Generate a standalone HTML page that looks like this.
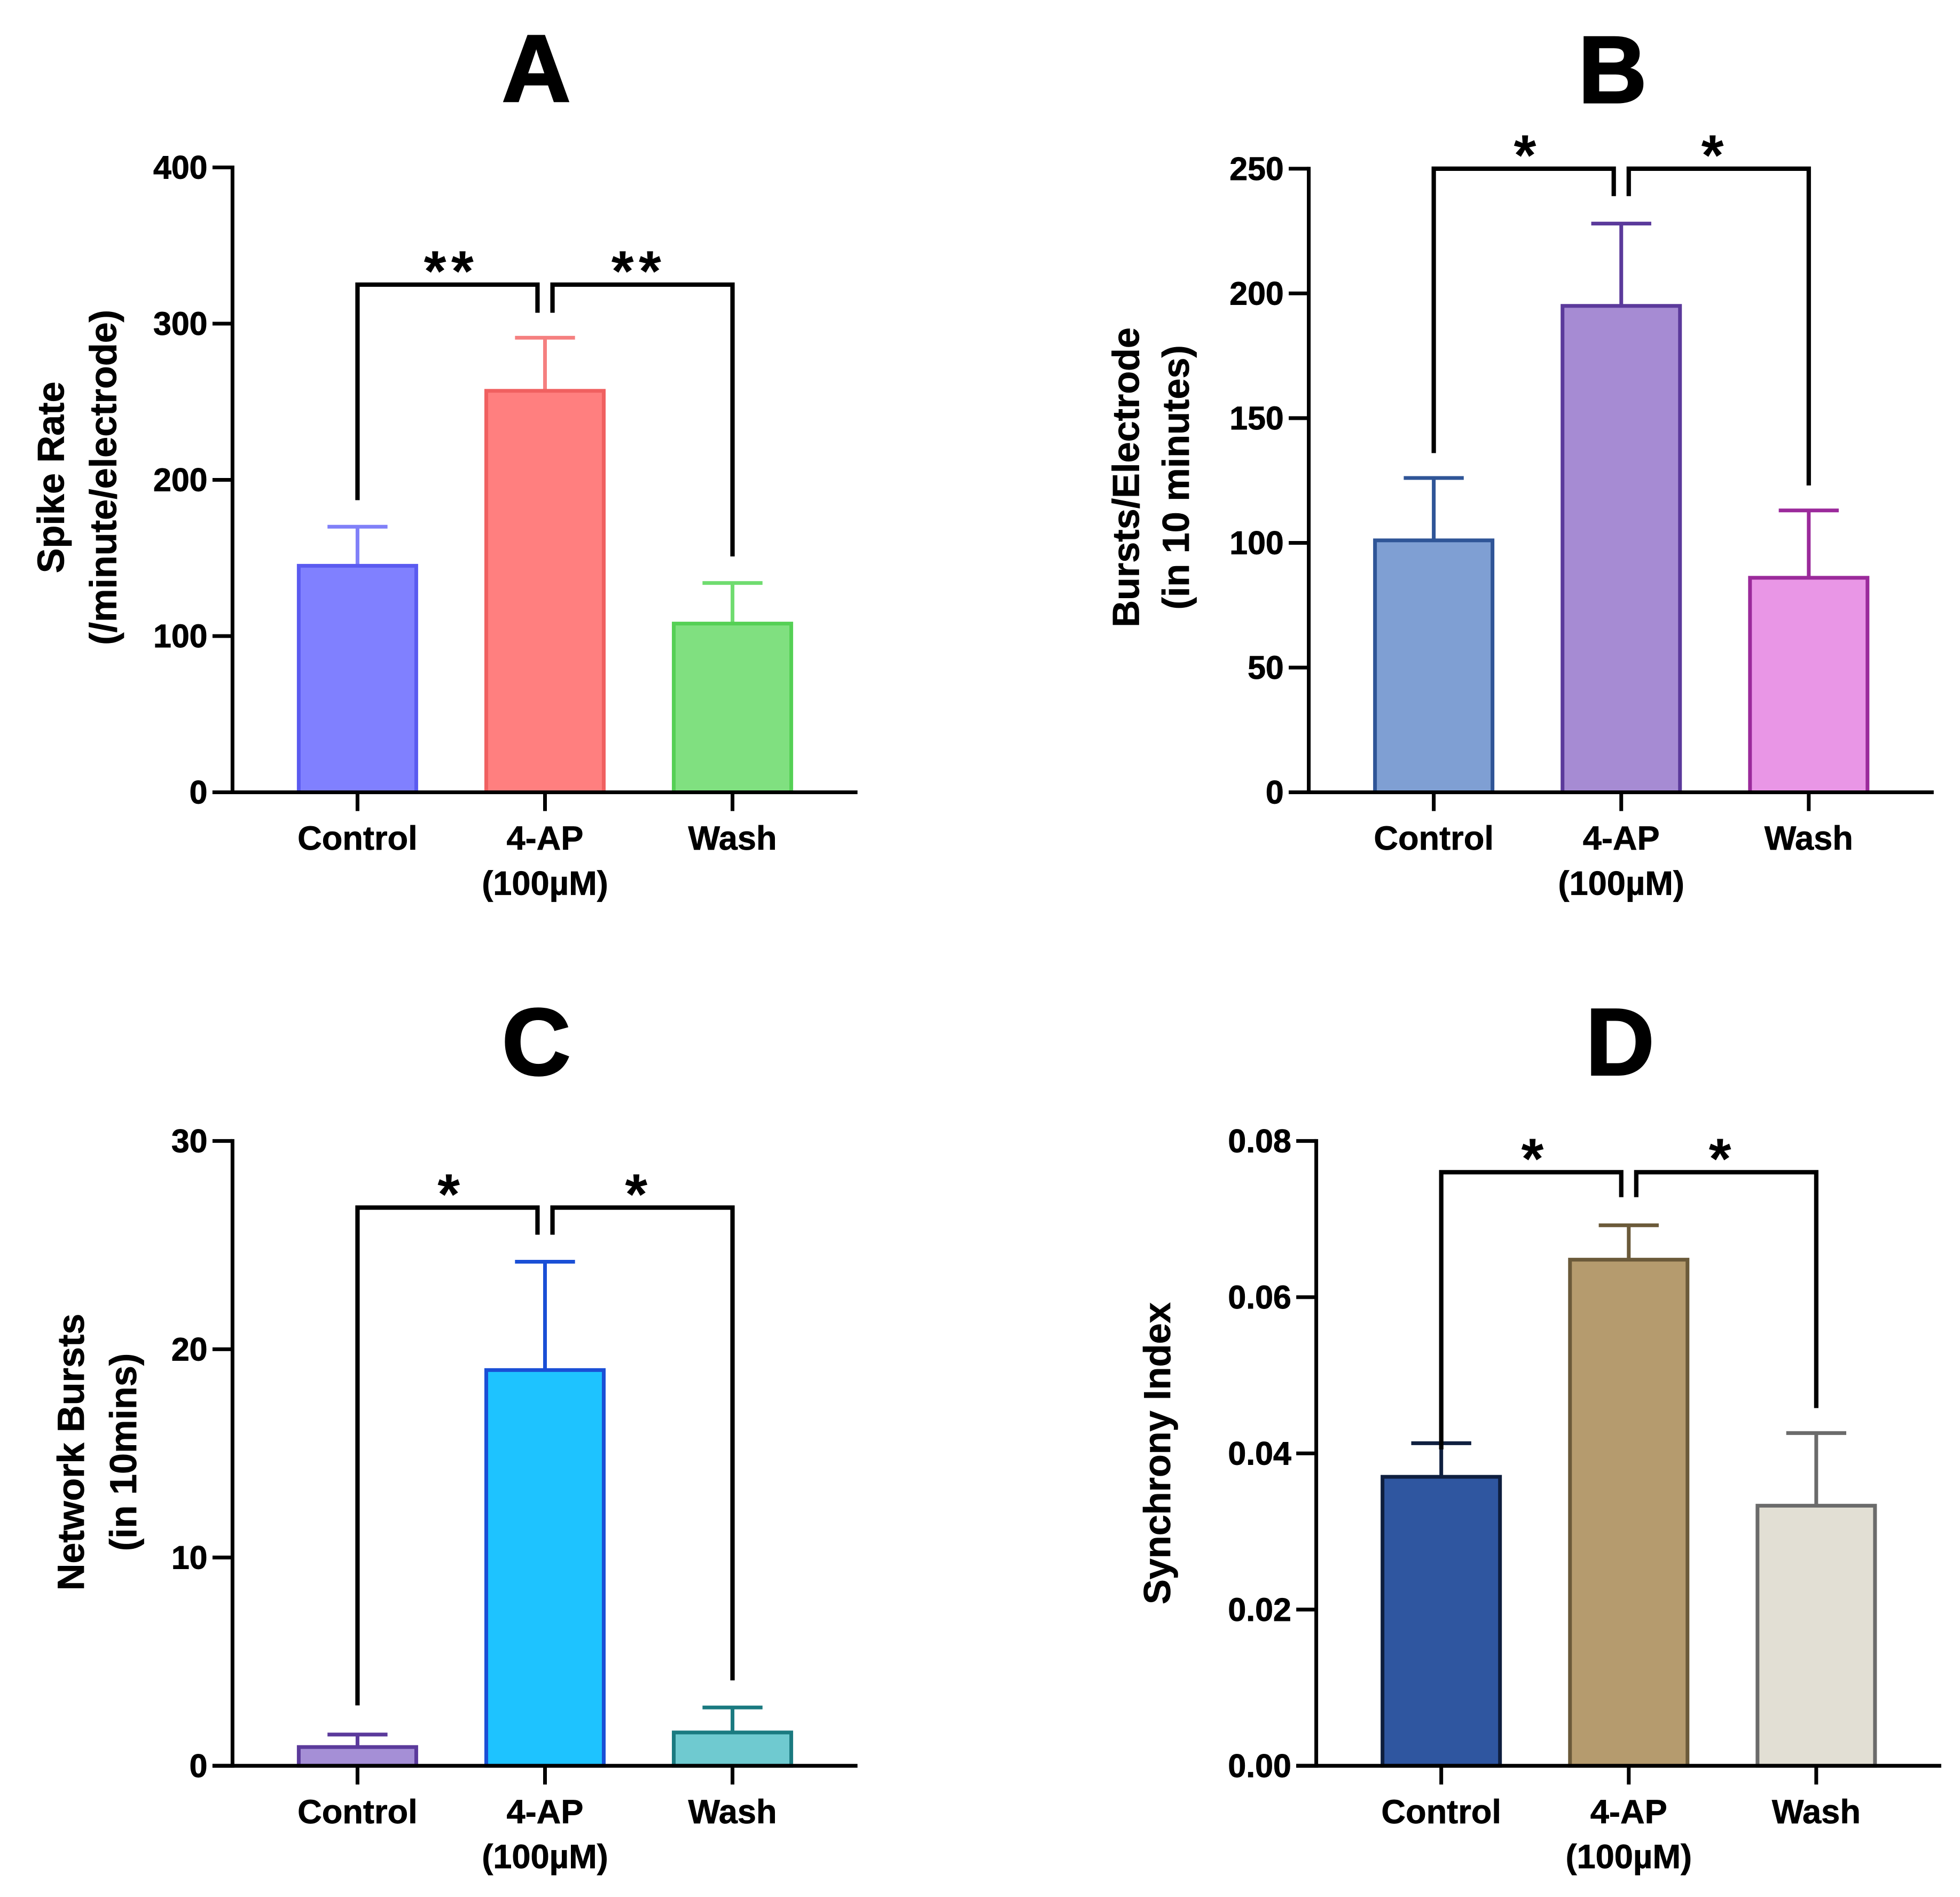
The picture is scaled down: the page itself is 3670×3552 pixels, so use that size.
<!DOCTYPE html>
<html><head><meta charset="utf-8"><style>
html,body{margin:0;padding:0;background:#fff}
svg{display:block}
text{font-family:"Liberation Sans",Arial,sans-serif;font-weight:bold;fill:#000}
</style></head><body>
<svg id="fig" xmlns="http://www.w3.org/2000/svg" width="3670" height="3552" viewBox="0 0 1568 1518" preserveAspectRatio="none"></svg>
<script>
const categories = ["Control", "4-AP", "Wash"];
const aValues = [145, 257, 108];
const aErrors = [170, 291, 134];
const aTicks = ["0", "100", "200", "300", "400"];
const bValues = [101, 195, 86];
const bErrors = [126, 228, 113];
const bTicks = ["0", "50", "100", "150", "200", "250"];
const cValues = [0.9, 19, 1.6];
const cErrors = [1.5, 24.2, 2.8];
const cTicks = ["0", "10", "20", "30"];
const dValues = [0.037, 0.0648, 0.0333];
const dErrors = [0.0413, 0.0692, 0.0426];
const dTicks = ["0.00", "0.02", "0.04", "0.06", "0.08"];
// brackets: [bar y, left leg bottom, middle legs bottom, right leg bottom]
const aBracket = [325, 187, 307, 151];
const bBracket = [250, 136, 239, 123];
const cBracket = [26.8, 2.9, 25.5, 4.1];
const dBracket = [0.076, 0.0405, 0.0728, 0.0458];

const NS = "http://www.w3.org/2000/svg";
const svg = document.getElementById("fig");
function el(tag, attrs, parent) {
  const e = document.createElementNS(NS, tag);
  for (const k in attrs) e.setAttribute(k, attrs[k]);
  (parent || svg).appendChild(e);
  return e;
}

const panels = [
  {id:"a", letter:"A", ox:186, y0:634, y1:134, max:400, ticks:aTicks, values:aValues, errors:aErrors, br:aBracket, stars:"**",
   fills:["#8080ff","#ff7f7f","#80e080"], strokes:["#5a5af0","#f06060","#55d055"], errc:["#8080f8","#f58080","#70dc70"],
   ytitle:["Spike Rate","(/minute/electrode)"], tx:[40,82], tcy:382},
  {id:"b", letter:"B", ox:1047, y0:634, y1:135, max:250, ticks:bTicks, values:bValues, errors:bErrors, br:bBracket, stars:"*",
   fills:["#7f9fd3","#a68bd3","#e996e6"], strokes:["#2f5597","#5b3a9b","#9b2a9b"], errc:["#2f5597","#5b3a9b","#9b2a9b"],
   ytitle:["Bursts/Electrode","(in 10 minutes)"], tx:[900,940], tcy:382},
  {id:"c", letter:"C", ox:186, y0:1413, y1:913, max:30, ticks:cTicks, values:cValues, errors:cErrors, br:cBracket, stars:"*",
   fills:["#a58fd6","#1ec3ff","#6fcad0"], strokes:["#5b3a9b","#1a4fd6","#1a7a80"], errc:["#5b3a9b","#1a4fd6","#1a7a80"],
   ytitle:["Network Bursts","(in 10mins)"], tx:[56,98], tcy:1162},
  {id:"d", letter:"D", ox:1053, y0:1413, y1:913, max:0.08, ticks:dTicks, values:dValues, errors:dErrors, br:dBracket, stars:"*",
   fills:["#2f56a0","#b59b6e","#e2dfd4"], strokes:["#0f1f3f","#6b5a3a","#6b6b6b"], errc:["#0f1f3f","#6b5a3a","#6b6b6b"],
   ytitle:["Synchrony Index"], tx:[925], tcy:1163}
];

panels.forEach(p => {
  const g = el("g", {});
  
  
  const y = v => p.y0 - (v / p.max) * (p.y0 - p.y1);
  const xc = i => p.ox + 100 + i * 150;
  const bw = 97;
  const t = el("text", {x:p.ox + 243, y:p.y1 - 53, "text-anchor":"middle", "font-size":76, stroke:"#000", "stroke-width":1.5}, g);
  t.textContent = p.letter;
  
  
  p.ticks.forEach((lab, i) => {
    const v = p.max * i / (p.ticks.length - 1);
    const ty = y(v);
    const tk = el("line", {x1:p.ox - 16, x2:p.ox, y1:ty, y2:ty, stroke:"#000", "stroke-width":3}, g);
    
    
    const tl = el("text", {x:p.ox - 20, y:ty + 9, "text-anchor":"end", "font-size":26, stroke:"#000", "stroke-width":0.4}, g);
    tl.textContent = lab;
    
    
  });
  p.values.forEach((v, i) => {
    const cx = xc(i);
    const eb = el("line", {x1:cx, x2:cx, y1:y(v), y2:y(p.errors[i]), stroke:p.errc[i], "stroke-width":3}, g);
    
    
    const ec = el("line", {x1:cx - 24, x2:cx + 24, y1:y(p.errors[i]), y2:y(p.errors[i]), stroke:p.errc[i], "stroke-width":3}, g);
    
    
    const r = el("rect", {x:cx - bw/2 + 1.5, y:y(v), width:bw - 3, height:p.y0 - y(v), fill:p.fills[i], stroke:p.strokes[i], "stroke-width":3}, g);
    
    
    const xt = el("line", {x1:cx, x2:cx, y1:p.y0, y2:p.y0 + 15, stroke:"#000", "stroke-width":3}, g);
    
    
    const cl = el("text", {x:cx, y:p.y0 + 46, "text-anchor":"middle", "font-size":27, stroke:"#000", "stroke-width":0.3}, g);
    cl.textContent = categories[i];
    
    
    if (i === 1) {
      const c2 = el("text", {x:cx, y:p.y0 + 82, "text-anchor":"middle", "font-size":27, stroke:"#000", "stroke-width":0.3}, g);
      c2.textContent = "(100µM)";
      
      
    }
  });
  const ya = el("line", {x1:p.ox, x2:p.ox, y1:p.y1 - 1.5, y2:p.y0 + 1.5, stroke:"#000", "stroke-width":3}, g);
  
  
  const xa = el("line", {x1:p.ox - 16, x2:p.ox + 500, y1:p.y0, y2:p.y0, stroke:"#000", "stroke-width":3}, g);
  
  
  const by = y(p.br[0]), x0 = xc(0), x1 = xc(1), x2 = xc(2);
  const l1 = el("polyline", {points:`${x0},${y(p.br[1])} ${x0},${by} ${x1-6},${by} ${x1-6},${y(p.br[2])}`, fill:"none", stroke:"#000", "stroke-width":3.5}, g);
  
  
  const l2 = el("polyline", {points:`${x1+6},${y(p.br[2])} ${x1+6},${by} ${x2},${by} ${x2},${y(p.br[3])}`, fill:"none", stroke:"#000", "stroke-width":3.5}, g);
  
  
  [[x0, x1], [x1, x2]].forEach(([a, b]) => {
    const s = el("text", {x:(a + b) / 2, y:by + 5, "text-anchor":"middle", "font-size":46, "letter-spacing":4}, g);
    s.textContent = p.stars;
    
    
  });
  p.ytitle.forEach((line, k) => {
    const yt = el("text", {x:0, y:0, "text-anchor":"middle", "font-size":30, stroke:"#000", "stroke-width":0.3, transform:`translate(${p.tx[k] + 11},${p.tcy}) rotate(-90)`}, g);
    yt.textContent = line;
    
    
  });
});
</script>
</body></html>
